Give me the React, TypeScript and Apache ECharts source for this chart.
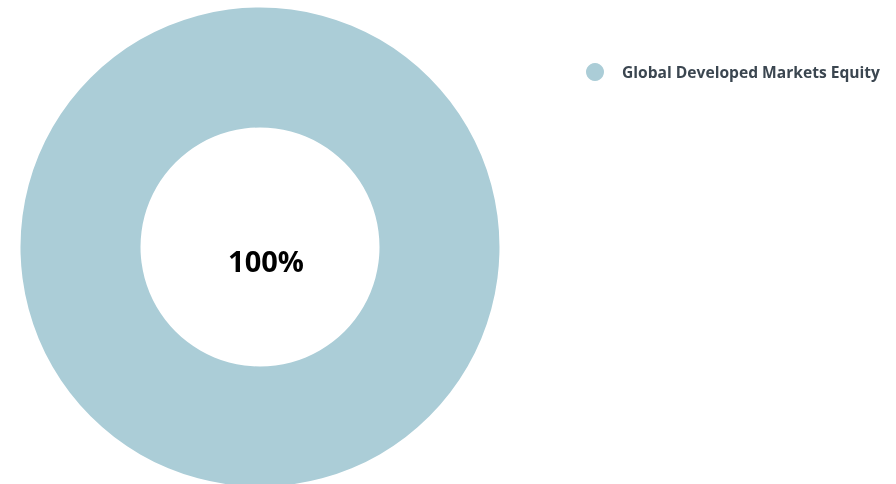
import React, { useEffect, useRef } from "react";
import * as echarts from "echarts";

const categories = ["Global Developed Markets Equity"];
const values = [100];
const centerLabel = "100%";
const colors = ["#abcdd7"];

export default function App() {
  const ref = useRef<HTMLDivElement>(null);
  useEffect(() => {
    if (!ref.current) return;
    const chart = echarts.init(ref.current, null, { renderer: "svg" });
    chart.setOption({
      animation: false,
      color: colors,
      legend: {
        orient: "vertical",
        left: 581,
        top: 58,
        icon: "circle",
        itemWidth: 18,
        itemHeight: 18,
        data: categories,
        textStyle: {
          fontFamily: "Open Sans",
          fontWeight: "bold",
          fontSize: 15.6,
          color: "#3b4650",
          padding: [0, 0, 0, 13],
        },
      },
      graphic: [
        {
          type: "text",
          x: 266,
          y: 260,
          style: {
            text: centerLabel,
            fontFamily: "Open Sans",
            fontWeight: "bold",
            fontSize: 29,
            fill: "#000000",
            textAlign: "center",
            textVerticalAlign: "middle",
          },
        },
      ],
      series: [
        {
          type: "pie",
          center: [260, 247],
          radius: [119.5, 239.5],
          label: { show: false },
          labelLine: { show: false },
          silent: true,
          data: categories.map((c, i) => ({ name: c, value: values[i] })),
        },
      ],
    });
    return () => chart.dispose();
  }, []);
  return (
    <div
      ref={ref}
      style={{ position: "fixed", left: 0, top: 0, width: 896, height: 484 }}
    />
  );
}
